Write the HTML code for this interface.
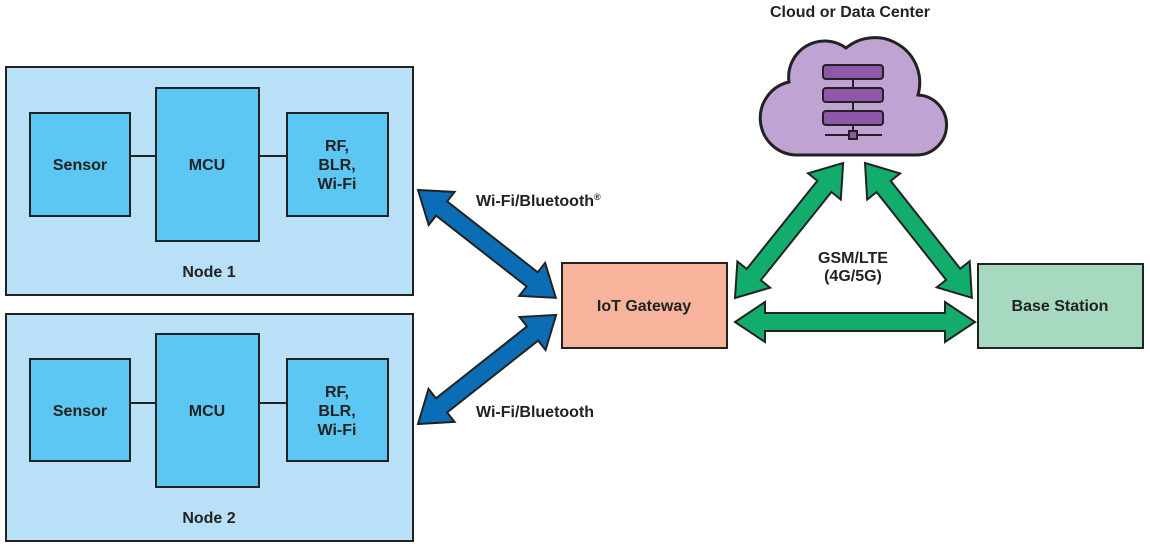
<!DOCTYPE html>
<html><head><style>
body{margin:0;background:#fff;}
svg{display:block;font-family:"Liberation Sans",sans-serif;font-weight:bold;}
</style></head><body>
<svg width="1150" height="547" viewBox="0 0 1150 547">
<g stroke="#222" stroke-width="2">
<rect x="6" y="67" width="407" height="228" fill="#b9e0f7"/>
<rect x="6" y="314" width="407" height="227" fill="#b9e0f7"/>
<line x1="130" y1="156" x2="156" y2="156"/><line x1="259" y1="156" x2="287" y2="156"/>
<line x1="130" y1="403" x2="156" y2="403"/><line x1="259" y1="403" x2="287" y2="403"/>
<rect x="30" y="113" width="100" height="103" fill="#5bc7f2"/>
<rect x="156" y="88" width="103" height="153" fill="#5bc7f2"/>
<rect x="287" y="113" width="101" height="103" fill="#5bc7f2"/>
<rect x="30" y="359" width="100" height="102" fill="#5bc7f2"/>
<rect x="156" y="334" width="103" height="153" fill="#5bc7f2"/>
<rect x="287" y="359" width="101" height="102" fill="#5bc7f2"/>
<rect x="562" y="263" width="165" height="85" fill="#f7b39c"/>
<rect x="978" y="264" width="165" height="84" fill="#a6d9c0"/>
</g>
<g font-size="16" fill="#222" text-anchor="middle">
<text x="80" y="170">Sensor</text><text x="207" y="170">MCU</text>
<text x="337" y="151">RF,</text><text x="337" y="170">BLR,</text><text x="337" y="189">Wi-Fi</text>
<text x="209" y="277">Node 1</text>
<text x="80" y="416">Sensor</text><text x="207" y="416">MCU</text>
<text x="337" y="397">RF,</text><text x="337" y="416">BLR,</text><text x="337" y="435">Wi-Fi</text>
<text x="209" y="523">Node 2</text>
<text x="644" y="311">IoT Gateway</text>
<text x="1060" y="311">Base Station</text>
<text x="850" y="17">Cloud or Data Center</text>
<text x="853" y="263">GSM/LTE</text><text x="853" y="281">(4G/5G)</text>
<text x="476" y="206" text-anchor="start">Wi-Fi/Bluetooth<tspan font-size="9" dy="-6">®</tspan></text>
<text x="476" y="417" text-anchor="start">Wi-Fi/Bluetooth</text>
</g>
<g stroke="#222" stroke-width="2" stroke-linejoin="miter">
<polygon fill="#0a6db5" transform="translate(418,190) rotate(38.05)" points="0,0 30,-21 30,-9 145,-9 145,-21 175,0 145,21 145,9 30,9 30,21"/>
<polygon fill="#0a6db5" transform="translate(418,424) rotate(-38.3)" points="0,0 30,-21 30,-9 146,-9 146,-21 176,0 146,21 146,9 30,9 30,21"/>
<polygon fill="#12ad6c" transform="translate(735,298) rotate(-51.3)" points="0,0 30,-21 30,-9 143,-9 143,-21 173,0 143,21 143,9 30,9 30,21"/>
<polygon fill="#12ad6c" transform="translate(865,163) rotate(51.6)" points="0,0 30,-21 30,-9 142,-9 142,-21 172,0 142,21 142,9 30,9 30,21"/>
<polygon fill="#12ad6c" transform="translate(735,322)" points="0,0 30,-20 30,-9 210,-9 210,-20 240,0 210,20 210,9 30,9 30,20"/>
<path fill="#bfa3d2" stroke-width="3" d="M795,155 H915 A30 30 0 0 0 918,95 A45 45 0 0 0 846,48 A36 36 0 0 0 789,82 A37 37 0 0 0 795,155 Z"/>
<line x1="853" y1="70" x2="853" y2="135"/>
<line x1="825" y1="135" x2="882" y2="135"/>
<g fill="#8e57a8">
<rect x="823" y="65" width="60" height="14" rx="3"/>
<rect x="823" y="88" width="60" height="14" rx="3"/>
<rect x="823" y="111" width="60" height="14" rx="3"/>
<rect x="849" y="131" width="8" height="8"/>
</g>
</g>
</svg>
</body></html>
